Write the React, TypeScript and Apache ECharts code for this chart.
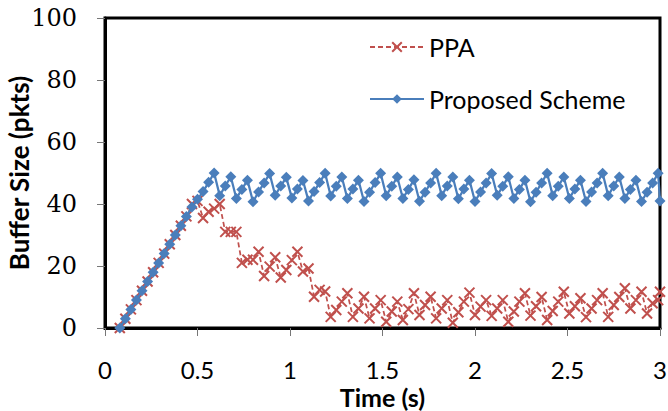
import React, { useEffect, useRef } from "react";
import * as echarts from "echarts";

const times = [
  0.08, 0.11, 0.14, 0.17, 0.2, 0.23, 0.26, 0.29, 0.32, 0.35,
  0.38, 0.41, 0.44, 0.47, 0.5, 0.53, 0.56, 0.59, 0.62, 0.65,
  0.68, 0.71, 0.74, 0.77, 0.8, 0.83, 0.86, 0.89, 0.92, 0.95,
  0.98, 1.01, 1.04, 1.07, 1.1, 1.13, 1.16, 1.19, 1.22, 1.25,
  1.28, 1.31, 1.34, 1.37, 1.4, 1.43, 1.46, 1.49, 1.52, 1.55,
  1.58, 1.61, 1.64, 1.67, 1.7, 1.73, 1.76, 1.79, 1.82, 1.85,
  1.88, 1.91, 1.94, 1.97, 2.0, 2.03, 2.06, 2.09, 2.12, 2.15,
  2.18, 2.21, 2.24, 2.27, 2.3, 2.33, 2.36, 2.39, 2.42, 2.45,
  2.48, 2.51, 2.54, 2.57, 2.6, 2.63, 2.66, 2.69, 2.72, 2.75,
  2.78, 2.81, 2.84, 2.87, 2.9, 2.93, 2.96, 2.99, 3.0,
];

const ppaValues = [
  0, 3, 6, 9, 12, 15, 18, 21, 24, 27,
  30, 33, 36, 40, 41, 35.5, 37.5, 38.5, 40, 31,
  31, 31, 21, 22, 22, 24.6, 16.8, 19.8, 22.8, 16.3,
  18.7, 21.9, 24.6, 18.2, 19.2, 10.1, 12.3, 11.8, 3.6, 5.8,
  8.5, 11.2, 3.6, 6.3, 10.1, 3.1, 6.3, 9, 2, 5.3,
  8.5, 2.6, 6.1, 11.2, 4.2, 7.4, 10.1, 3.1, 6.3, 9,
  1.7, 5.1, 8.5, 11.4, 4.2, 6.9, 9, 3.9, 6.3, 9,
  2, 5.3, 8.5, 11.2, 4, 7, 10, 2.6, 5.5, 8.5,
  11.7, 4.7, 7, 9.6, 3.5, 6.3, 9, 11.2, 3.6, 7.4,
  10, 12.8, 6.3, 9, 11.7, 4.7, 8, 9, 11.7,
];

const proposedValues = [
  0, 3, 6, 9, 12, 15, 18, 21, 24, 27,
  30, 33, 36, 39, 41.5, 44, 47, 50, 42.7, 45.8,
  48.8, 41.8, 44.7, 47.7, 40.7, 43.9, 46.8, 49.8, 42.8, 45.8,
  48.6, 41.9, 44.8, 47.6, 41, 44, 46.9, 49.9, 42.6, 45.7,
  48.7, 41.8, 44.8, 47.7, 40.8, 43.8, 46.9, 49.9, 42.7, 45.7,
  48.7, 41.8, 44.7, 47.8, 40.9, 43.8, 46.8, 49.9, 42.7, 45.8,
  48.7, 41.7, 44.8, 47.7, 40.8, 43.9, 46.8, 49.8, 42.8, 45.7,
  48.8, 41.8, 44.7, 47.7, 40.7, 43.8, 46.8, 49.9, 42.7, 45.7,
  48.7, 41.8, 44.8, 47.7, 40.8, 43.9, 46.8, 49.9, 42.7, 45.8,
  48.7, 41.8, 44.7, 47.7, 40.8, 43.8, 46.8, 49.9, 41,
];

const seriesNames = ["PPA", "Proposed Scheme"];
const xAxisTitle = "Time (s)";
const yAxisTitle = "Buffer Size (pkts)";

const RED = "#C0504D";
const BLUE = "#4A7EBB";

export default function App() {
  const ref = useRef<HTMLDivElement>(null);

  useEffect(() => {
    if (!ref.current) return;
    const chart = echarts.init(ref.current, null, { renderer: "svg" });
    const ppaData = times.map((t, i) => [t, ppaValues[i]]);
    const propData = times.map((t, i) => [t, proposedValues[i]]);

    chart.setOption({
      animation: false,
      backgroundColor: "#fff",
      grid: {
        left: 105,
        right: 8,
        top: 18,
        bottom: 83,
        containLabel: false,
        outerBoundsMode: "none",
        show: true,
        borderColor: "#000",
        borderWidth: 3,
        backgroundColor: "transparent",
      },
      legend: {
        data: seriesNames,
        orient: "vertical",
        left: 364,
        top: 27,
        itemWidth: 54,
        itemHeight: 12,
        itemGap: 22,
        textStyle: {
          fontFamily: "Lato",
          fontSize: 25,
          color: "#000",
          lineHeight: 30,
        },
      },
      xAxis: {
        type: "value",
        min: 0,
        max: 3,
        interval: 0.5,
        name: xAxisTitle,
        nameLocation: "middle",
        nameGap: 57,
        nameMoveOverlap: false,
        nameTextStyle: {
          fontFamily: "Lato",
          fontWeight: "bold",
          fontSize: 25,
          lineHeight: 24,
          color: "#000",
        },
        axisLine: { show: true, lineStyle: { color: "#000", width: 3 } },
        axisTick: { show: true, inside: false, length: 8, lineStyle: { color: "#777", width: 1 } },
        axisLabel: {
          margin: 29,
          fontFamily: "Lato",
          fontSize: 24,
          lineHeight: 24,
          color: "#000",
        },
        splitLine: { show: false },
      },
      yAxis: {
        type: "value",
        min: 0,
        max: 100,
        interval: 20,
        name: yAxisTitle,
        nameLocation: "middle",
        nameGap: 73,
        nameMoveOverlap: false,
        nameRotate: 90,
        nameTextStyle: {
          fontFamily: "Lato",
          fontWeight: "bold",
          fontSize: 26,
          lineHeight: 26,
          color: "#000",
        },
        axisLine: { show: true, lineStyle: { color: "#000", width: 3 } },
        axisTick: { show: true, inside: false, length: 8, lineStyle: { color: "#777", width: 1 } },
        axisLabel: {
          margin: 28,
          fontFamily: "DejaVu Serif",
          fontSize: 24,
          color: "#000",
        },
        splitLine: { show: false },
      },
      series: [
        {
          name: seriesNames[0],
          type: "line",
          data: ppaData,
          symbol: "path://M0,0L10,10M10,0L0,10",
          symbolSize: 10,
          showAllSymbol: true,
          color: RED,
          lineStyle: { color: RED, width: 1.75, type: [5, 3] },
          itemStyle: { color: "transparent", borderColor: RED, borderWidth: 2 },
          z: 2,
        },
        {
          name: seriesNames[1],
          type: "line",
          data: propData,
          symbol: "diamond",
          symbolSize: 11,
          showAllSymbol: true,
          color: BLUE,
          lineStyle: { color: BLUE, width: 2.25 },
          itemStyle: { color: BLUE },
          z: 3,
        },
      ],
    });

    return () => chart.dispose();
  }, []);

  return <div ref={ref} style={{ width: 668, height: 411, position: "fixed", left: 0, top: 0 }} />;
}
